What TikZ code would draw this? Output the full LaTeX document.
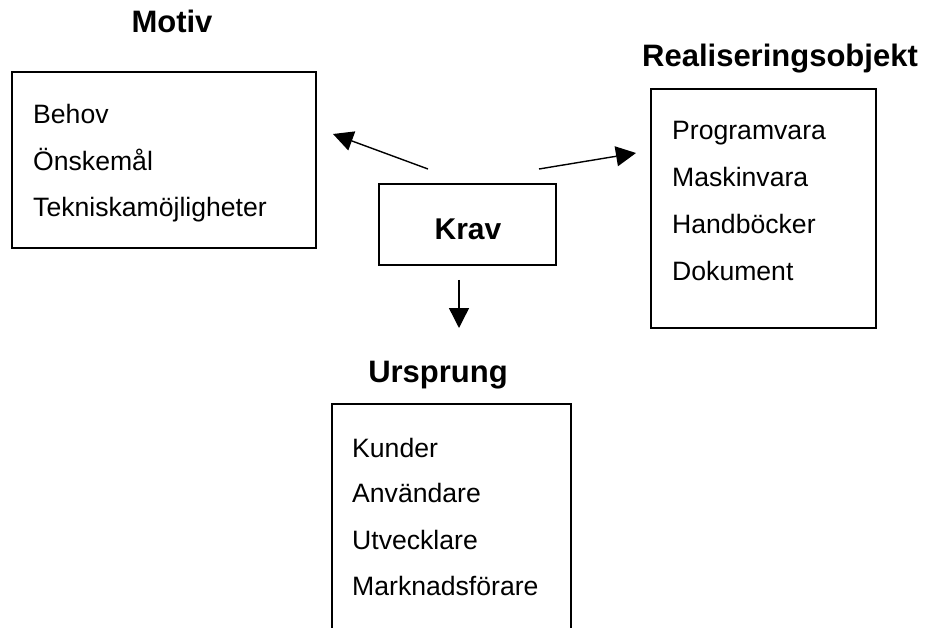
\documentclass[tikz,border=0pt]{standalone}
\usepackage{fontspec}
\setmainfont{Liberation Sans}
\usetikzlibrary{arrows.meta}
\begin{document}
\begin{tikzpicture}[x=1pt,y=-1pt,
  box/.style={draw,line width=1.4pt,rectangle,inner sep=0pt},
  item/.style={anchor=base west,inner sep=0pt,font=\fontsize{26.6}{30}\selectfont},
  ttl/.style={anchor=base,inner sep=0pt,font=\fontsize{31}{34}\selectfont\bfseries},
  arr/.style={line width=1.4pt,-{Triangle[length=20pt,width=20pt]}}]
\useasboundingbox[fill=white] (0,0) rectangle (926,628);
% Motiv
\node[ttl] (tmotiv) at (172,33) {Motiv};
\node[box,minimum width=304pt,minimum height=176pt] (motiv) at (164,160) {};
\node[item] (m1) at (33,124) {Behov};
\node[item] (m2) at (33,171) {Önskemål};
\node[item] (m3) at (33,217) {Tekniskamöjligheter};
% Krav
\node[box,minimum width=177pt,minimum height=81pt] (krav) at (467.5,224.5) {};
\node[ttl,font=\fontsize{30}{33}\selectfont\bfseries] (kravt) at (468,240) {Krav};
% Realiseringsobjekt
\node[ttl] (treal) at (780,67) {Realiseringsobjekt};
\node[box,minimum width=225pt,minimum height=239pt] (real) at (763.5,208.5) {};
\node[item] (r1) at (672,140) {Programvara};
\node[item] (r2) at (672,187) {Maskinvara};
\node[item] (r3) at (672,234) {Handböcker};
\node[item] (r4) at (672,281) {Dokument};
% Ursprung
\node[ttl] (turs) at (438,382) {Ursprung};
\draw[line width=1.4pt] (332,640) -- (332,404) -- (571,404) -- (571,640);
\node[item] (u1) at (352,457) {Kunder};
\node[item] (u2) at (352,502) {Användare};
\node[item] (u3) at (352,549) {Utvecklare};
\node[item] (u4) at (352,595) {Marknadsförare};
% arrows
\coordinate (a1s) at (428,169);
\coordinate (a1e) at (333,134);
\coordinate (a2s) at (539,169);
\coordinate (a2e) at (636,153);
\coordinate (a3s) at (459,280);
\coordinate (a3e) at (459,328);
\draw[arr] (a1s) -- (a1e);
\draw[arr] (a2s) -- (a2e);
\draw[arr] (a3s) -- (a3e);
\end{tikzpicture}
\end{document}
